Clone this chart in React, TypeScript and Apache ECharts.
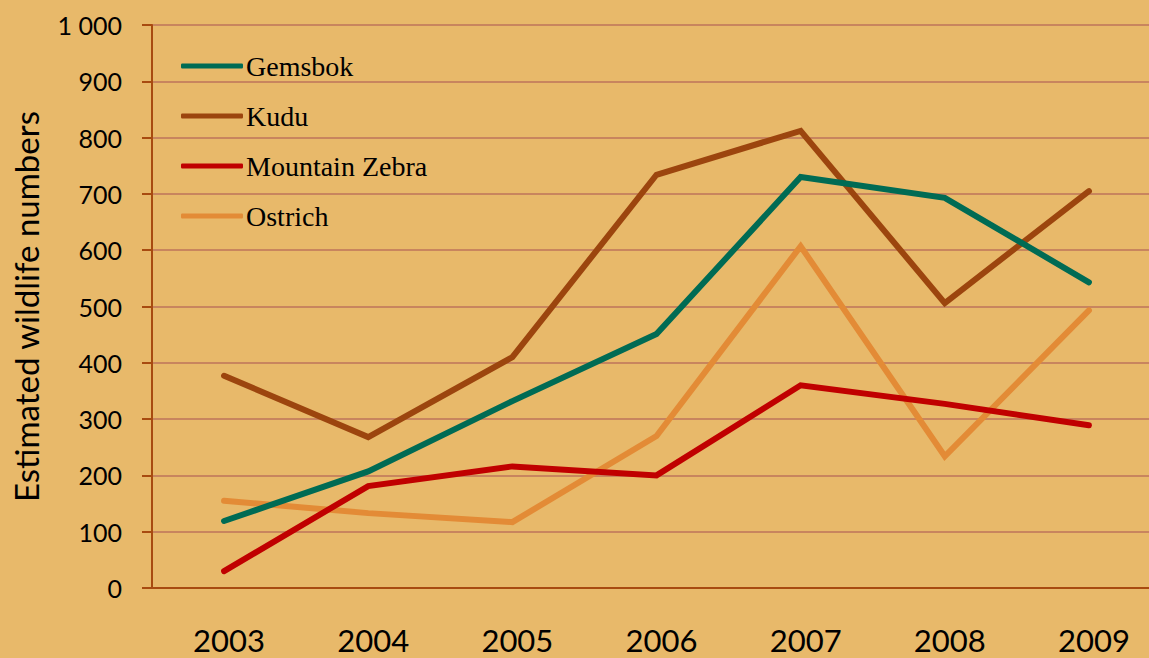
import React, { useEffect, useRef } from "react";
import * as echarts from "echarts";

const years = ["2003", "2004", "2005", "2006", "2007", "2008", "2009"];
const gemsbok = [119, 207, 332, 451, 730, 693, 543];
const kudu = [377, 268, 410, 734, 812, 506, 705];
const mountainZebra = [30, 181, 216, 200, 360, 327, 289];
const ostrich = [155, 133, 117, 270, 607, 234, 493];

const seriesNames = ["Gemsbok", "Kudu", "Mountain Zebra", "Ostrich"];
const seriesColors = ["#006B54", "#9C450E", "#C00000", "#E38B36"];

export default function App() {
  const ref = useRef<HTMLDivElement>(null);
  useEffect(() => {
    if (!ref.current) return;
    document.body.style.margin = "0";
    const chart = echarts.init(ref.current, undefined, { renderer: "svg" });
    const values = [gemsbok, kudu, mountainZebra, ostrich];
    chart.setOption({
      animation: false,
      backgroundColor: "#E8B96A",
      grid: { left: 152, top: 25, width: 1009, height: 563, outerBoundsMode: "none", containLabel: false },
      legend: {
        orient: "vertical",
        left: 176,
        top: 47,
        itemGap: 22,
        itemWidth: 62,
        itemHeight: 5,
        icon: "roundRect",
        data: seriesNames,
        textStyle: {
          fontFamily: "Liberation Serif",
          fontSize: 28,
          color: "#000",
          padding: [0, 0, 0, -2],
        },
      },
      xAxis: {
        type: "category",
        data: years,
        boundaryGap: true,
        axisLine: { lineStyle: { color: "#A84B10", width: 2 } },
        axisTick: { length: 10, lineStyle: { color: "#A84B10", width: 2 } },
        axisLabel: {
          margin: 36,
          fontFamily: "Lato",
          fontSize: 31,
          lineHeight: 32,
          color: "#000",
          padding: [0, 0, 0, 10],
        },
        splitLine: { show: false },
      },
      yAxis: {
        type: "value",
        min: 0,
        max: 1000,
        interval: 100,
        name: "Estimated wildlife numbers",
        nameLocation: "middle",
        nameGap: 110,
        nameRotate: 90,
        nameTextStyle: { fontFamily: "Lato", fontSize: 33, color: "#000" },
        axisLine: { show: true, lineStyle: { color: "#A84B10", width: 2 } },
        axisTick: { show: true, length: 10, lineStyle: { color: "#A84B10", width: 2 } },
        axisLabel: {
          margin: 30,
          fontFamily: "Lato",
          fontSize: 25,
          color: "#000",
          formatter: (v: number) =>
            v >= 1000 ? Math.floor(v / 1000) + " " + String(v % 1000).padStart(3, "0") : String(v),
        },
        splitLine: { lineStyle: { color: "#C8855E", width: 2 } },
      },
      series: seriesNames.map((name, i) => ({
        name,
        type: "line",
        data: values[i],
        showSymbol: false,
        symbol: "none",
        color: seriesColors[i],
        lineStyle: { width: 6, color: seriesColors[i], cap: "round", join: "miter" },
        z: 10 - i,
      })),
    });
    return () => chart.dispose();
  }, []);
  return <div ref={ref} style={{ width: 1149, height: 658, position: "absolute", left: 0, top: 0 }} />;
}
